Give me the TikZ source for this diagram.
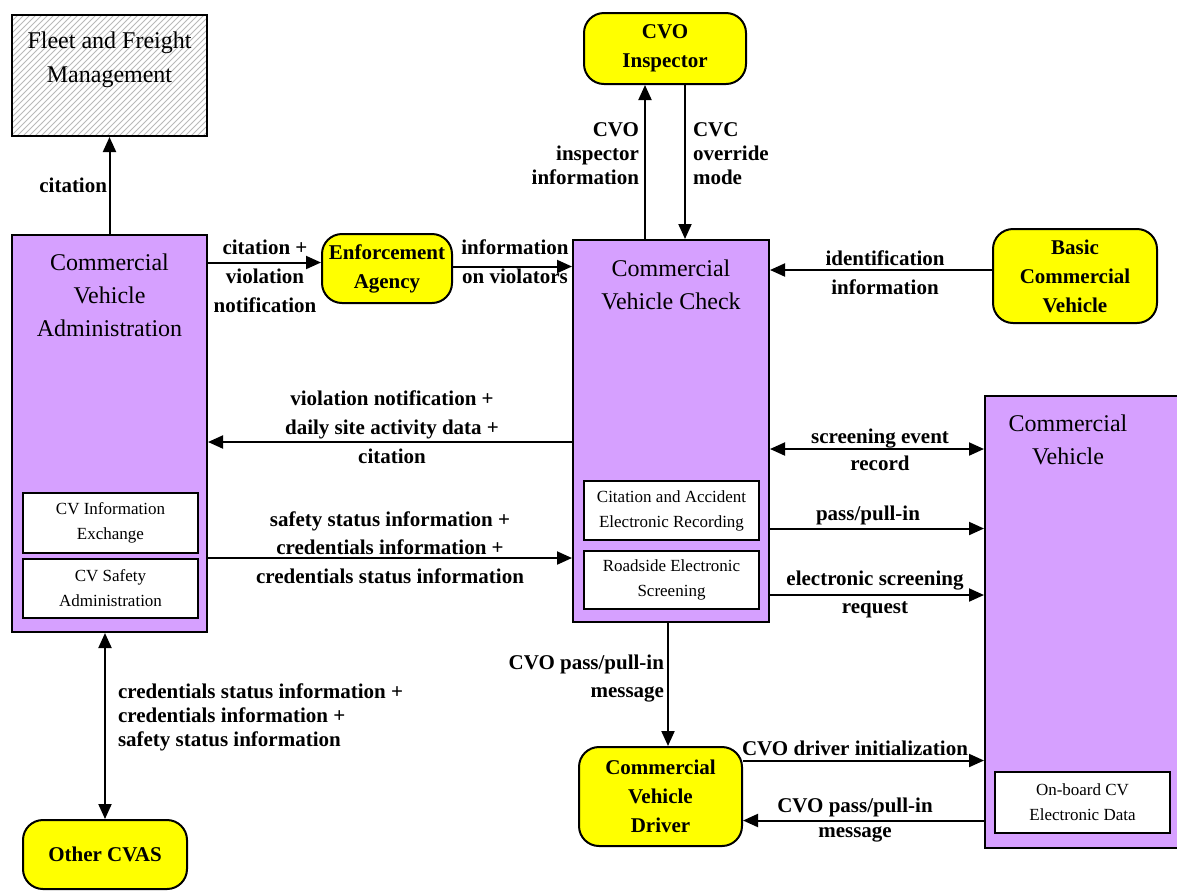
\documentclass[tikz,border=0pt]{standalone}
\usepackage{fontspec}
\setmainfont{Liberation Serif}
\usetikzlibrary{arrows.meta,patterns,positioning}
\definecolor{cvpurple}{RGB}{214,160,255}
\definecolor{termyellow}{RGB}{255,255,0}

\begin{document}
\begin{tikzpicture}[
  x=0.5pt, y=-0.5pt, line width=1pt,
  >={Triangle[length=7.5pt,width=6.5pt]},
  subsys/.style={draw, fill=cvpurple, inner sep=0pt},
  eqpkg/.style={draw, fill=white, align=center, inner sep=0pt,
                font=\fontsize{8.5}{12.5}\selectfont},
  termbox/.style={draw, fill=termyellow, rounded corners=10pt, align=center,
                  inner sep=0pt, font=\bfseries\fontsize{10.5}{14.5}\selectfont},
  boxtitle/.style={align=center, inner sep=0pt, font=\fontsize{12}{16.5}\selectfont},
  flowlabel/.style={align=center, inner sep=0pt,
                    font=\bfseries\fontsize{10.5}{14.5}\selectfont},
  arr/.style={->}
]
\useasboundingbox (0,0) rectangle (1177,891);

%% Fleet and Freight Management (external)
\node[draw, pattern=north east lines, pattern color=gray!55,
      minimum width=97.5pt, minimum height=60.5pt] (fleet) at (109.5,75.5) {};
\node[boxtitle, font=\fontsize{12}{17}\selectfont] (fleettxt) at (109.5,60)
  {Fleet and Freight\\Management};

%% Commercial Vehicle Administration
\node[subsys, minimum width=97.5pt, minimum height=198.5pt] (cva) at (109.5,433.5) {};
\node[boxtitle] (cvatxt) at (109.5,295) {Commercial\\Vehicle\\Administration};
\node[eqpkg, minimum width=87.5pt, minimum height=30pt] (cvie) at (110.5,523)
  {CV Information\\Exchange};
\node[eqpkg, minimum width=87.5pt, minimum height=29.5pt] (cvsa) at (110.5,588.5)
  {CV Safety\\Administration};

%% Commercial Vehicle Check
\node[subsys, minimum width=98pt, minimum height=191pt] (cvc) at (671,431) {};
\node[boxtitle] (cvctxt) at (671,284.5) {Commercial\\Vehicle Check};
\node[eqpkg, minimum width=87.5pt, minimum height=29.5pt] (caer) at (671.5,510.5)
  {Citation and Accident\\Electronic Recording};
\node[eqpkg, minimum width=87.5pt, minimum height=29pt] (rses) at (671.5,580)
  {Roadside Electronic\\Screening};

%% Commercial Vehicle
\node[subsys, minimum width=98.5pt, minimum height=226pt] (cv) at (1083.5,622) {};
\node[boxtitle] (cvtxt) at (1068,439.5) {Commercial\\Vehicle};
\node[eqpkg, minimum width=87.5pt, minimum height=30.5pt] (obd) at (1082.5,802.5)
  {On-board CV\\Electronic Data};

%% Terminators
\node[termbox, minimum width=65pt, minimum height=34.5pt] (enf) at (387,268.5)
  {Enforcement\\Agency};
\node[termbox, minimum width=81pt, minimum height=35.5pt] (insp) at (665,48.5)
  {CVO\\Inspector};
\node[termbox, minimum width=82pt, minimum height=47pt] (bcv) at (1075,276)
  {Basic\\Commercial\\Vehicle};
\node[termbox, minimum width=81.5pt, minimum height=49.5pt] (drv) at (660.5,796.5)
  {Commercial\\Vehicle\\Driver};
\node[termbox, minimum width=82pt, minimum height=34.5pt] (ocvas) at (105,854.5)
  {Other CVAS};

%% Connector end points
\coordinate (enfin)  at ([yshift=3pt]enf.west);
\coordinate (enfout) at ([yshift=1pt]enf.east);
\coordinate (inspL)  at ([xshift=-10pt]insp.south);
\coordinate (inspR)  at ([xshift=10pt]insp.south);
\coordinate (bcvout) at ([yshift=3pt]bcv.west);
\coordinate (cvcL)   at ([yshift=-5.5pt]cvc.west);
\coordinate (sev)    at ([yshift=-9pt]cvc.east);
\coordinate (pp)     at ([yshift=-9pt]caer.east);
\coordinate (esr)    at ([yshift=-7.5pt]rses.east);
\coordinate (drvin)  at ([xshift=3.75pt]drv.north);
\coordinate (di)     at ([yshift=18pt]drv.east);
\coordinate (dm)     at ([yshift=-12pt]drv.east);

%% Flows
\draw[arr] (cva.north) -- (fleet.south);
\draw[arr] (cva.east |- enfin) -- (enfin);
\draw[arr] (enfout) -- (enfout -| cvc.west);
\draw[arr] (inspL |- cvc.north) -- (inspL);
\draw[arr] (inspR) -- (inspR |- cvc.north);
\draw[arr] (bcvout) -- (bcvout -| cvc.east);
\draw[arr] (cvcL) -- (cvcL -| cva.east);
\draw[arr] (cvsa.north -| cva.east) -- (cvsa.north -| cvc.west);
\draw[<->] (sev) -- (sev -| cv.west);
\draw[arr] (pp -| cvc.east) -- (pp -| cv.west);
\draw[arr] (esr -| cvc.east) -- (esr -| cv.west);
\draw[arr] (drvin |- cvc.south) -- (drvin);
\draw[arr] (di) -- (di -| cv.west);
\draw[arr] (dm -| cv.west) -- (dm);
\draw[<->] (ocvas.north |- cva.south) -- (ocvas.north);

%% Flow labels
\node[flowlabel, anchor=east] (lcit) at (108,185) {citation};
\node[flowlabel] (lcvn) at (265,276) {citation +\\violation\\notification};
\node[flowlabel] (linf) at (515,262) {information\\on violators};
\node[flowlabel, anchor=east, align=right, font=\bfseries\fontsize{10.5}{12}\selectfont]
  (linsp) at (640,154) {CVO\\inspector\\information};
\node[flowlabel, anchor=west, align=left, font=\bfseries\fontsize{10.5}{12}\selectfont]
  (lovr) at (692,154) {CVC\\override\\mode};
\node[flowlabel] (lid) at (885,272.5) {identification\\information};
\node[flowlabel] (lviol) at (392,427)
  {violation notification +\\daily site activity data +\\citation};
\node[flowlabel, font=\bfseries\fontsize{10.5}{14.25}\selectfont] (lsafe) at (390,547.5)
  {safety status information +\\credentials information +\\credentials status information};
\node[flowlabel, font=\bfseries\fontsize{10.5}{13.5}\selectfont] (lscr) at (880,449.5)
  {screening event\\record};
\node[flowlabel] (lpass) at (868,515) {pass/pull-in};
\node[flowlabel, font=\bfseries\fontsize{10.5}{14}\selectfont] (lesr) at (875,594)
  {electronic screening\\request};
\node[flowlabel, anchor=east, align=right, font=\bfseries\fontsize{10.5}{14}\selectfont]
  (lcvo) at (665,679) {CVO pass/pull-in\\message};
\node[flowlabel] (ldi) at (855,748) {CVO driver initialization};
\node[flowlabel, font=\bfseries\fontsize{10.5}{12.5}\selectfont] (lmsg) at (855,820.5)
  {CVO pass/pull-in\\message};
\node[flowlabel, anchor=west, align=left, font=\bfseries\fontsize{10.5}{12}\selectfont]
  (lcred) at (117,717)
  {credentials status information +\\credentials information +\\safety status information};

\end{tikzpicture}
\end{document}
